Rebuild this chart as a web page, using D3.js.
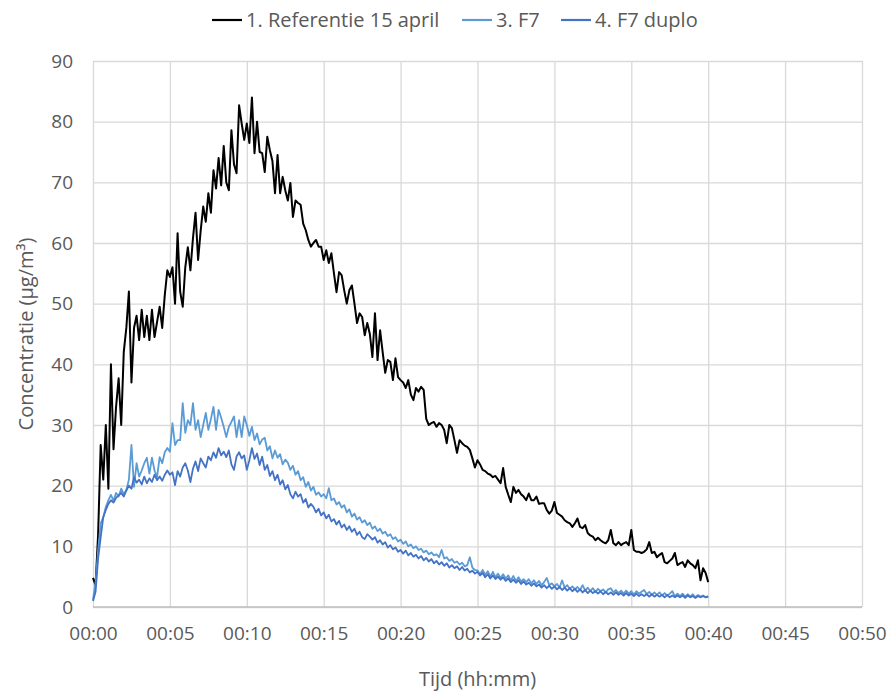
<!DOCTYPE html>
<html>
<head>
<meta charset="utf-8">
<script src="https://cdn.jsdelivr.net/npm/d3@7/dist/d3.min.js"></script>
<style>
  html, body { margin: 0; padding: 0; background: #fff; }
  svg { display: block; }
</style>
</head>
<body>
<svg id="chart" width="893" height="691"></svg>
<script>
// Measurements are logged every 10 seconds from 00:00 to 00:40.
const sampleStepSeconds = 10;

const seriesNames = ["1. Referentie 15 april", "3. F7", "4. F7 duplo"];
const seriesColors = ["#000000", "#5B9BD5", "#4472C4"];

const xTickLabels = ["00:00", "00:05", "00:10", "00:15", "00:20", "00:25",
                     "00:30", "00:35", "00:40", "00:45", "00:50"];
const yTicks = [0, 10, 20, 30, 40, 50, 60, 70, 80, 90];

// 1. Referentie 15 april (µg/m³)
const referentie = [
  4.8, 3.6, 12, 26.7, 21, 30, 19.5, 40, 26, 33,
  37.7, 30, 42, 46, 52, 37, 46, 48, 44, 49,
  44.5, 48, 44, 49, 44.5, 47, 49.5, 46, 51.4, 55.5,
  54.4, 56, 50, 61.6, 52, 49.5, 56, 59.3, 55.5, 60.8,
  65, 57.2, 62, 66, 63.5, 68.2, 65, 72, 69, 74,
  69.5, 76, 70, 68.7, 78.6, 73, 71.5, 82.7, 79.7, 77,
  79.7, 76.5, 84, 74.8, 80, 75, 74.8, 71.7, 77.5, 75.3,
  73.5, 68.2, 74.5, 68.2, 70.9, 68.7, 67, 69.9, 64.3, 67,
  66.6, 66.3, 63.2, 62.1, 60.5, 59.4, 60, 60.5, 59.4, 59.4,
  57.2, 58.8, 56.7, 58.3, 55, 51.9, 55.2, 54.7, 52.2, 50,
  52.2, 53, 50, 46.8, 48.4, 47.8, 44.8, 46.8, 45, 41.2,
  48.4, 40.7, 45.6, 42, 38.6, 40.7, 40.4, 37.4, 41, 37.9,
  37.4, 37, 36.1, 37.4, 35, 34.1, 36.1, 35.5, 36.3, 35.8,
  31, 30, 30.3, 30.5, 29.7, 30.3, 30, 29.2, 27, 30,
  29.5, 27.5, 25.4, 27.5, 27, 26.6, 26.4, 25.9, 24.5, 23,
  24.2, 23.5, 22.6, 22.4, 22, 21.8, 21.4, 21.6, 21, 20.4,
  22.9, 19.8, 18.5, 17.3, 19.8, 18.8, 19.3, 18.6, 18.2, 17.6,
  18.7, 17.6, 17.6, 18.2, 17, 17.1, 17.1, 16, 15.4, 15.9,
  17.3, 15.5, 15.2, 14.9, 14.3, 14, 13.8, 13.2, 13.8, 14.6,
  13.2, 13, 13.5, 12.2, 11.8, 11.6, 11, 11.4, 11, 10.7,
  10.5, 11, 12.7, 10.5, 10.2, 10.7, 10.2, 10.5, 10.7, 10.2,
  12.7, 9.4, 9.1, 9.1, 8.9, 9.1, 9.5, 10.7, 8.9, 9.1,
  8.2, 8.6, 8.9, 7.4, 7.2, 7.6, 8, 8.9, 6.9, 7.2,
  7.4, 6.6, 7.7, 7.2, 6.9, 6.4, 7.7, 4.4, 6.4, 5.6,
  4.1
];

// 3. F7 (µg/m³)
const f7 = [
  1.2, 4, 9.4, 13.8, 14.8, 16.5, 17.6, 18.5, 17.5, 18.8,
  18.2, 19.5, 18.6, 19.3, 21, 26.7, 19.8, 23.7, 21.5, 22.5,
  23.7, 24.6, 22, 24.6, 22.5, 21.4, 24.7, 23.7, 25.5, 26.2,
  25.6, 30.3, 26.7, 27.5, 27.5, 33.6, 28.7, 30.8, 30, 33.6,
  29.2, 30.8, 28, 30, 32, 29.2, 31, 33, 29.2, 32.5,
  31.2, 29.7, 28, 29.7, 30.5, 31.4, 28, 30.8, 28, 31.4,
  30, 28.2, 29.7, 27.5, 28.6, 26.8, 27.6, 27.9, 25.8, 26.5,
  24.5, 25.8, 24.6, 25.2, 23.5, 24.3, 23.8, 22.6, 23.3, 21.8,
  22.4, 20.9, 21.4, 19.8, 20.6, 19.2, 19.8, 18.5, 18.9, 18.2,
  18.6, 17.9, 19.6, 17.6, 17.9, 16.9, 17.3, 16.4, 16.8, 15.6,
  16.1, 14.9, 15.4, 14.4, 14.8, 13.9, 14.3, 13.5, 13.9, 12.9,
  13.3, 12.5, 12.9, 12.1, 12.4, 11.7, 12, 11.2, 11.5, 10.8,
  11.1, 10.4, 10.8, 10, 10.3, 9.7, 10, 9.4, 9.6, 9,
  9.3, 8.7, 9, 8.5, 8.7, 8.2, 9.4, 8, 8.2, 7.6,
  7.9, 7.3, 7.5, 7, 7.3, 6.7, 6.9, 8.2, 6.5, 6.1,
  6.0, 5.4, 6.1, 5.3, 5.9, 5.0, 5.8, 4.9, 5.5, 4.8,
  5.4, 4.7, 5.2, 4.4, 5.1, 4.3, 4.9, 4.2, 4.6, 4.1,
  4.6, 3.9, 4.4, 3.8, 4.3, 3.6, 4.1, 4.8, 3.6, 3.9,
  3.4, 3.8, 3.2, 4.4, 3.2, 3.6, 3.0, 3.4, 2.9, 3.3,
  2.8, 3.6, 2.7, 3.2, 2.6, 3.1, 2.5, 3.0, 2.6, 2.9,
  2.4, 2.9, 3.1, 2.4, 2.8, 2.3, 2.7, 2.2, 2.7, 2.2,
  2.6, 2.1, 2.6, 2.2, 2.5, 2.8, 2.1, 2.5, 2.0, 2.4,
  2.0, 2.4, 1.9, 2.3, 1.9, 2.2, 2.6, 1.8, 2.2, 1.8,
  2.2, 1.7, 2.1, 1.7, 2.1, 1.6, 2.0, 1.7, 1.9, 1.6,
  1.8
];

// 4. F7 duplo (µg/m³)
const f7Duplo = [
  1, 2.5, 8, 11.5, 14.8, 16, 17, 17.6, 17.2, 18,
  18.4, 18.8, 18.2, 19.2, 20, 19.5, 21.4, 20.5, 21, 20.2,
  21.5, 20.4, 21.2, 20.6, 21.8, 20.9, 21.5, 20.8, 21.8, 22.5,
  21.8, 22.2, 20.1, 22.4, 21.5, 23, 23.7, 22.5, 20.6, 22.8,
  24, 22.4, 24.5, 23.7, 23, 24.8, 24.2, 25.5, 24.6, 26.2,
  25, 25.6, 24.7, 25.8, 23.5, 22.6, 24.8, 25.5, 24.5, 25,
  22.6, 24.2, 26.2, 24.4, 25.3, 23.4, 24.8, 22.6, 23.4, 21.6,
  22.4, 20.9, 21.8, 20.2, 20.9, 19.4, 20.1, 18.6, 17.9, 19,
  18.2, 18.6, 17.2, 17.8, 16.4, 17, 16.5, 15.6, 16.2, 15.1,
  15.6, 14.6, 15.2, 14.1, 14.5, 13.6, 14.2, 13.1, 13.6, 12.7,
  13.3, 12.4, 12.9, 11.9, 12.4, 11.5, 11.2, 12, 11.6, 11.1,
  11.5, 10.6, 11, 10.3, 10.7, 9.8, 10.2, 9.5, 9.8, 9.1,
  9.4, 8.8, 9.3, 8.5, 8.9, 8.3, 8.6, 8, 8.4, 7.7,
  8.1, 7.5, 7.9, 7.2, 7.6, 7, 7.4, 6.8, 7.2, 6.5,
  6.9, 6.4, 6.7, 6.1, 6.6, 6, 6.3, 5.7, 6, 5.5,
  5.8, 5.2, 5.6, 4.9, 5.4, 4.7, 5.2, 4.6, 5.0, 4.5,
  4.9, 4.3, 4.7, 4.1, 4.5, 4.0, 4.4, 3.8, 4.2, 3.7,
  4.0, 3.5, 3.9, 3.4, 3.7, 3.2, 3.6, 3.1, 3.5, 3.0,
  3.4, 2.9, 3.3, 2.8, 3.2, 2.7, 3.1, 2.6, 3.0, 2.5,
  2.9, 2.4, 2.8, 2.3, 2.7, 2.3, 2.6, 2.2, 2.6, 2.1,
  2.5, 2.1, 2.4, 2.0, 2.4, 2.0, 2.3, 1.9, 2.3, 1.9,
  2.2, 1.8, 2.2, 1.8, 2.1, 1.8, 2.1, 1.7, 2.1, 1.7,
  2.0, 1.7, 2.0, 1.6, 2.0, 1.6, 1.9, 1.6, 1.9, 1.6,
  1.9, 1.5, 1.9, 1.6, 1.8, 1.5, 1.8, 1.6, 1.8, 1.6,
  1.7
];

const allSeries = [referentie, f7, f7Duplo];

const svg = d3.select("#chart");
const plot = { left: 93, right: 862, top: 61, bottom: 607 };

const x = d3.scaleLinear().domain([0, 50 * 60]).range([plot.left, plot.right]);
const y = d3.scaleLinear().domain([0, 90]).range([plot.bottom, plot.top]);
const xTickValues = xTickLabels.map(s => {
  const [h, m] = s.split(":").map(Number);
  return (h * 60 + m) * 60;
});

const labelFont = "'Open Sans', 'Segoe UI', sans-serif";
const textColor = "#595959";
const gridColor = "#d9d9d9";
const tickFontSize = "19px";
const titleFontSize = "20px";

// Horizontal gridlines and y tick labels
const yAxis = d3.axisLeft(y).tickValues(yTicks).tickSize(-(plot.right - plot.left)).tickPadding(20);
const gy = svg.append("g").attr("transform", `translate(${plot.left},0)`).call(yAxis);
gy.select(".domain").remove();
gy.selectAll(".tick line").attr("stroke", gridColor).attr("stroke-width", 1.3);
gy.selectAll(".tick text")
  .attr("fill", textColor).style("font-family", labelFont).style("font-size", tickFontSize);

// Vertical gridlines and x tick labels
const xAxis = d3.axisBottom(x).tickValues(xTickValues)
  .tickFormat((d, i) => xTickLabels[i])
  .tickSize(-(plot.bottom - plot.top)).tickPadding(20);
const gx = svg.append("g").attr("transform", `translate(0,${plot.bottom})`).call(xAxis);
gx.select(".domain").remove();
gx.selectAll(".tick line").attr("stroke", gridColor).attr("stroke-width", 1.3);
gx.selectAll(".tick text")
  .attr("fill", textColor).style("font-family", labelFont).style("font-size", tickFontSize);

// Category axis baseline
svg.append("line")
  .attr("x1", plot.left).attr("x2", plot.right)
  .attr("y1", y(0)).attr("y2", y(0))
  .attr("stroke", "#bfbfbf").attr("stroke-width", 1.3);

// Data lines
const line = d3.line()
  .x((d, i) => x(i * sampleStepSeconds))
  .y(d => y(d));

allSeries.forEach((values, s) => {
  svg.append("path")
    .datum(values)
    .attr("fill", "none")
    .attr("stroke", seriesColors[s])
    .attr("stroke-width", s === 0 ? 2 : 1.8)
    .attr("stroke-linejoin", "round")
    .attr("d", line);
});

// Axis titles
svg.append("text")
  .attr("x", (plot.left + plot.right) / 2).attr("y", 686)
  .attr("text-anchor", "middle")
  .attr("fill", textColor).style("font-family", labelFont).style("font-size", titleFontSize)
  .text("Tijd (hh:mm)");

svg.append("text")
  .attr("transform", `translate(33,${(plot.top + plot.bottom) / 2}) rotate(-90)`)
  .attr("text-anchor", "middle")
  .attr("fill", textColor).style("font-family", labelFont).style("font-size", titleFontSize)
  .text("Concentratie (µg/m³)");

// Legend
const legendItems = [
  { swatch: 212, text: 246 },
  { swatch: 462, text: 496 },
  { swatch: 561, text: 595 }
];
const legend = svg.append("g").style("font-family", labelFont).style("font-size", titleFontSize);
seriesNames.forEach((name, s) => {
  const item = legendItems[s];
  legend.append("line")
    .attr("x1", item.swatch).attr("x2", item.swatch + 30)
    .attr("y1", 20).attr("y2", 20)
    .attr("stroke", seriesColors[s]).attr("stroke-width", 2.2);
  legend.append("text")
    .attr("x", item.text).attr("y", 27)
    .attr("fill", textColor)
    .text(name);
});
</script>
</body>
</html>
